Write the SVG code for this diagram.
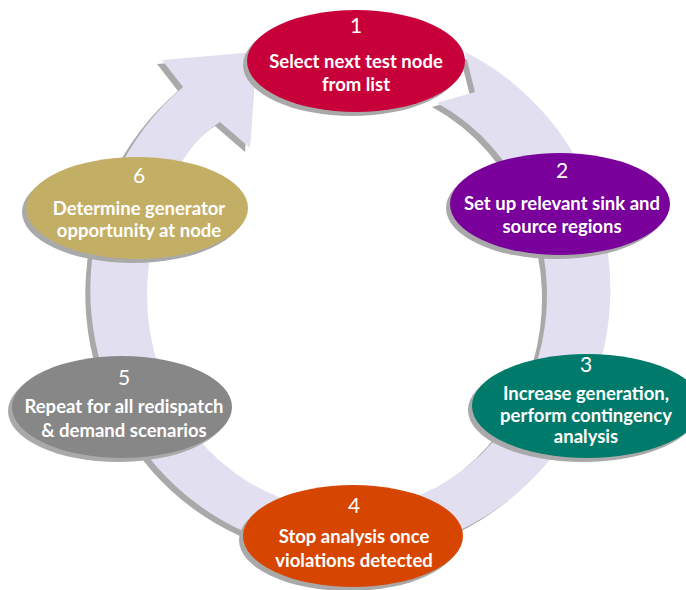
<svg xmlns="http://www.w3.org/2000/svg" width="686" height="590" viewBox="0 0 686 590">
<defs>
<style>
.shadow{fill:#a9a9a9}
.ring{fill:#e1dff0}
.num{fill:#ffffff;font-family:"Lato","Open Sans",sans-serif;font-size:21px;font-weight:400;text-anchor:middle}
.lbl{fill:#ffffff;font-family:"Lato","Open Sans",sans-serif;font-size:18.5px;font-weight:700;text-anchor:middle}
</style>
<path id="arrow" d="M 465 52 A 260 265 0 1 1 183 87 L 162 60 L 257 52 L 250 148 L 220 122 C 175 150 148 220 147 295 A 200 215 0 1 0 437 103 L 475 92 Z"/>
</defs>
<rect width="686" height="590" fill="#ffffff"/>
<g id="connectors">
<use href="#arrow" class="shadow" transform="translate(-5,4)"/>
<use href="#arrow" class="ring"/>
</g>
<g id="node1">
<ellipse class="shadow" cx="352" cy="65" rx="109" ry="51"/>
<ellipse cx="356" cy="61" rx="109" ry="51" fill="#c8003a"/>
<text class="num" x="356" y="33">1</text>
<text class="lbl" x="356" y="68">Select next test node</text>
<text class="lbl" x="356" y="91">from list</text>
</g>
<g id="node2">
<ellipse class="shadow" cx="556" cy="208" rx="110" ry="51"/>
<ellipse cx="560" cy="204" rx="110" ry="51" fill="#79009a"/>
<text class="num" x="562" y="178">2</text>
<text class="lbl" x="562" y="210">Set up relevant sink and</text>
<text class="lbl" x="562" y="233">source regions</text>
</g>
<g id="node3">
<ellipse class="shadow" cx="583" cy="410" rx="115" ry="52"/>
<ellipse cx="587" cy="406" rx="115" ry="52" fill="#007a6b"/>
<text class="num" x="586" y="372">3</text>
<text class="lbl" x="586" y="400">Increase generation,</text>
<text class="lbl" x="586" y="422">perform contingency</text>
<text class="lbl" x="586" y="443">analysis</text>
</g>
<g id="node4">
<ellipse class="shadow" cx="349" cy="540" rx="110" ry="51"/>
<ellipse cx="353" cy="536" rx="110" ry="51" fill="#d74600"/>
<text class="num" x="354" y="513">4</text>
<text class="lbl" x="354" y="543">Stop analysis once</text>
<text class="lbl" x="354" y="567">violations detected</text>
</g>
<g id="node5">
<ellipse class="shadow" cx="118" cy="411" rx="110" ry="51"/>
<ellipse cx="122" cy="407" rx="110" ry="51" fill="#878787"/>
<text class="num" x="124" y="385">5</text>
<text class="lbl" x="124" y="413">Repeat for all redispatch</text>
<text class="lbl" x="124" y="437">&amp; demand scenarios</text>
</g>
<g id="node6">
<ellipse class="shadow" cx="133" cy="212" rx="111" ry="51"/>
<ellipse cx="137" cy="208" rx="111" ry="51" fill="#c3ae65"/>
<text class="num" x="139" y="183">6</text>
<text class="lbl" x="139" y="215">Determine generator</text>
<text class="lbl" x="139" y="237">opportunity at node</text>
</g>
</svg>
